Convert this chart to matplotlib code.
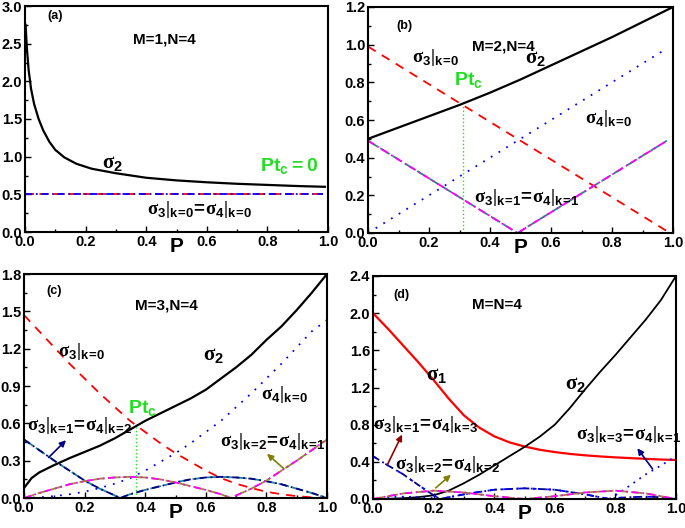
import numpy as np
import matplotlib
matplotlib.use("Agg")
from matplotlib import pyplot as plt
from matplotlib.ticker import MultipleLocator

plt.rcParams["font.family"] = ["Liberation Sans", "DejaVu Sans"]
plt.rcParams["font.weight"] = "bold"
plt.rcParams["mathtext.fontset"] = "custom"
plt.rcParams["mathtext.rm"] = "Liberation Serif"
plt.rcParams["mathtext.bf"] = "Liberation Sans:bold"
plt.rcParams["mathtext.sf"] = "Liberation Sans"
plt.rcParams["mathtext.it"] = "Liberation Sans:italic"

# ------ panel (a): M=1, N=4
pa = [0.002, 0.006, 0.012, 0.02, 0.03, 0.045, 0.06, 0.08, 0.1, 0.13, 0.17,
      0.22, 0.3, 0.4, 0.5, 0.6, 0.7, 0.8, 0.9, 0.99]
sig2_a = [2.75, 2.45, 2.15, 1.9, 1.7, 1.5, 1.35, 1.2, 1.09, 0.99, 0.905,
          0.84, 0.78, 0.72, 0.685, 0.66, 0.64, 0.625, 0.61, 0.60]
pa_flat = [0.0, 0.985]
sig34_a = [0.5, 0.5]

# ------ panel (b): M=2, N=4
pb = [0.0, 0.1, 0.2, 0.3, 0.4, 0.5, 0.6, 0.7, 0.8, 0.9, 1.0]
sig2_b = [0.50, 0.56, 0.62, 0.68, 0.745, 0.815, 0.89, 0.965, 1.04, 1.12, 1.20]
pb_s3 = [0.0, 0.99]
sig3k0_b = [0.99, 0.0]
pb_s4 = [0.0, 0.98]
sig4k0_b = [0.0, 0.98]
pb_v = [0.0, 0.49, 0.98]
sig3k1_b = [0.49, 0.0, 0.49]
ptc_b = 0.31

# ------ panel (c): M=3, N=4
pc = [0.0, 0.025, 0.05, 0.1, 0.15, 0.2, 0.25, 0.3, 0.35, 0.4, 0.45, 0.5,
      0.55, 0.6, 0.65, 0.7, 0.75, 0.8, 0.85, 0.9, 0.95, 1.0]
sig2_c = [0.08, 0.16, 0.205, 0.265, 0.32, 0.37, 0.42, 0.48, 0.55, 0.62, 0.68, 0.74,
          0.80, 0.87, 0.96, 1.05, 1.15, 1.27, 1.38, 1.51, 1.65, 1.80]
sig3k0_c = [1.47, 1.405, 1.34, 1.21, 1.08, 0.96, 0.84, 0.73, 0.62, 0.53, 0.44, 0.36,
            0.29, 0.22, 0.16, 0.115, 0.08, 0.05, 0.03, 0.015, 0.005, 0.0]
sig4k0_c = [0.0, 0.002, 0.005, 0.015, 0.03, 0.05, 0.08, 0.115, 0.16, 0.22, 0.29, 0.36,
            0.44, 0.53, 0.62, 0.73, 0.84, 0.96, 1.08, 1.21, 1.34, 1.43]
pc_k = [0.0, 0.05, 0.1, 0.15, 0.2, 0.25, 0.3, 0.317, 0.35, 0.4, 0.45, 0.5,
        0.55, 0.6, 0.65, 0.7, 0.75, 0.8, 0.85, 0.9, 0.95, 1.0]
sig3k1_c = [0.47, 0.385, 0.30, 0.22, 0.14, 0.075, 0.02, 0.0, 0.03, 0.065, 0.095, 0.125,
            0.15, 0.165, 0.17, 0.165, 0.155, 0.135, 0.11, 0.075, 0.04, 0.0]
pc_k2 = [0.0, 0.05, 0.1, 0.15, 0.2, 0.25, 0.3, 0.35, 0.4, 0.45, 0.5,
         0.55, 0.6, 0.65, 0.683, 0.7, 0.75, 0.8, 0.85, 0.9, 0.95, 1.0]
sig3k2_c = [0.0, 0.04, 0.075, 0.11, 0.135, 0.155, 0.165, 0.17, 0.165, 0.15, 0.125,
            0.095, 0.065, 0.03, 0.0, 0.02, 0.075, 0.14, 0.22, 0.30, 0.385, 0.47]
ptc_c = 0.37

# ------ panel (d): M=N=4
pd_ = [0.0, 0.05, 0.1, 0.15, 0.2, 0.25, 0.3, 0.35, 0.4, 0.45, 0.5,
       0.55, 0.6, 0.65, 0.7, 0.75, 0.8, 0.85, 0.9, 0.95, 1.0]
sig1_d = [2.0, 1.83, 1.65, 1.47, 1.28, 1.08, 0.90, 0.77, 0.675, 0.61, 0.565,
          0.53, 0.505, 0.485, 0.47, 0.458, 0.448, 0.44, 0.432, 0.425, 0.42]
sig2_d = [0.0, 0.002, 0.008, 0.02, 0.04, 0.09, 0.17, 0.26, 0.36, 0.46, 0.56,
          0.67, 0.80, 0.98, 1.18, 1.37, 1.55, 1.74, 1.93, 2.14, 2.40]
pd_k = [0.0, 0.05, 0.1, 0.15, 0.2, 0.22, 0.3, 0.4, 0.5, 0.6, 0.7, 0.78,
        0.8, 0.85, 0.9, 0.95, 1.0]
sig3k1_d = [0.46, 0.36, 0.265, 0.15, 0.04, 0.0, 0.05, 0.10, 0.115, 0.10, 0.05, 0.0,
            0.01, 0.02, 0.025, 0.02, 0.0]
sig3k3_d = [0.0, 0.02, 0.025, 0.02, 0.01, 0.0, 0.05, 0.10, 0.115, 0.10, 0.05, 0.0,
            0.04, 0.15, 0.265, 0.36, 0.46]
pd_m = [0.0, 0.1, 0.2, 0.3, 0.4, 0.5, 0.6, 0.7, 0.8, 0.9, 1.0]
sig3k2_d = [0.0, 0.06, 0.09, 0.07, 0.03, 0.0, 0.03, 0.07, 0.09, 0.06, 0.0]


def lab(n, k, n2=None, k2=None):
    s = r"$\mathrm{\sigma}_{\mathbf{%d}}|_{\mathsf{k\!=\!%d}}" % (n, k)
    if n2 is not None:
        s += r"\!\mathsf{=}\!\mathrm{\sigma}_{\mathbf{%d}}|_{\mathsf{k\!=\!%d}}" % (n2, k2)
    return s + "$"


def sig(n):
    return r"$\mathrm{\sigma}_{\mathbf{%d}}$" % n


ptc = r"$\mathbf{P}\mathbf{t}_{\mathbf{c}}$"


def setup(ax, ymax, ystep):
    ax.set_xlim(0, 1.0)
    ax.set_ylim(0, ymax)
    ax.xaxis.set_major_locator(MultipleLocator(0.2))
    ax.xaxis.set_minor_locator(MultipleLocator(0.1))
    ax.yaxis.set_major_locator(MultipleLocator(ystep))
    ax.yaxis.set_minor_locator(MultipleLocator(ystep / 2))
    ax.tick_params(which="both", direction="in", top=False, right=False,
                   labelsize=10.5, pad=2, width=1)
    ax.tick_params(which="major", length=4)
    ax.tick_params(which="minor", length=2)
    for s in ax.spines.values():
        s.set_linewidth(1.5)
    ax.text(0.5, -0.065, "P", transform=ax.transAxes, ha="center", va="center",
            fontsize=15, fontweight="bold")


fig = plt.figure(figsize=(6.85, 5.28), dpi=100)
ax_a = fig.add_axes([25 / 685, 1 - 232 / 528, 303 / 685, 226 / 528])
ax_b = fig.add_axes([368 / 685, 1 - 233 / 528, 305 / 685, 226 / 528])
ax_c = fig.add_axes([24 / 685, 1 - 498 / 528, 303 / 685, 224 / 528])
ax_d = fig.add_axes([373 / 685, 1 - 499 / 528, 303 / 685, 223 / 528])

lw = 1.3
fs = 13.5
# (a)
ax = ax_a
setup(ax, 3.0, 0.5)
ax.plot(pa, sig2_a, color="black", lw=1.6)
ax.plot(pa_flat, sig34_a, color="red", lw=lw, ls=(0, (5, 3)))
ax.plot(pa_flat, sig34_a, color="blue", lw=lw, ls=(0, (4, 2, 1, 2)))
ax.text(0.1, 2.87, "(a)", fontsize=9, fontweight="bold", ha="center", va="center")
ax.text(0.46, 2.55, "M=1,N=4", fontsize=11, fontweight="bold", ha="center", va="center")
ax.text(0.29, 0.9, sig(2), fontsize=15, ha="center", va="center")
ax.text(0.87, 0.87, ptc + r"$\mathbf{=0}$", fontsize=14, color="#22dd22", ha="center", va="center")
ax.text(0.575, 0.3, lab(3, 0, 4, 0), fontsize=fs, ha="center", va="center")

# (b)
ax = ax_b
setup(ax, 1.2, 0.2)
ax.plot(pb, sig2_b, color="black", lw=1.6)
ax.plot(pb_s3, sig3k0_b, color="red", lw=lw, ls=(0, (5, 4)))
ax.plot(pb_s4, sig4k0_b, color="blue", lw=lw, ls=(0, (1, 4)))
ax.plot(pb_v, sig3k1_b, color="#308080", lw=lw, ls=(0, (6, 2)))
ax.plot(pb_v, sig3k1_b, color="magenta", lw=lw, ls=(0, (4, 2, 1, 2)))
ax.plot([ptc_b, ptc_b], [0, np.interp(ptc_b, pb, sig2_b)], color="#22dd22", lw=1, ls=":")
ax.text(0.12, 1.1, "(b)", fontsize=9, fontweight="bold", ha="center", va="center")
ax.text(0.445, 0.99, "M=2,N=4", fontsize=11, fontweight="bold", ha="center", va="center")
ax.text(0.55, 0.92, sig(2), fontsize=15, ha="center", va="center")
ax.text(0.22, 0.93, lab(3, 0), fontsize=fs, ha="center", va="center")
ax.text(0.33, 0.81, ptc, fontsize=14, color="#22dd22", ha="center", va="center")
ax.text(0.79, 0.61, lab(4, 0), fontsize=fs, ha="center", va="center")
ax.text(0.52, 0.19, lab(3, 1, 4, 1), fontsize=fs, ha="center", va="center")

# (c)
ax = ax_c
setup(ax, 1.8, 0.3)
ax.plot(pc, sig2_c, color="black", lw=1.6)
ax.plot(pc, sig3k0_c, color="red", lw=lw, ls=(0, (5, 4)))
ax.plot(pc, sig4k0_c, color="blue", lw=lw, ls=(0, (1, 4)))
ax.plot(pc_k, sig3k1_c, color="#2080a0", lw=lw, ls=(0, (6, 2)))
ax.plot(pc_k, sig3k1_c, color="navy", lw=lw, ls=(0, (4, 2, 1, 2)))
ax.plot(pc_k2, sig3k2_c, color="#909020", lw=lw, ls=(0, (6, 2)))
ax.plot(pc_k2, sig3k2_c, color="magenta", lw=lw, ls=(0, (4, 2, 1, 2, 1, 2)))
ax.plot([ptc_c, ptc_c], [0, np.interp(ptc_c, pc, sig2_c)], color="#22dd22", lw=1, ls=":")
ax.annotate("", xy=(0.145, 0.48), xytext=(0.075, 0.31),
            arrowprops=dict(arrowstyle="-|>", color="navy", lw=1.2, mutation_scale=9))
ax.annotate("", xy=(0.795, 0.37), xytext=(0.865, 0.22),
            arrowprops=dict(arrowstyle="-|>", color="#808000", lw=1.2, mutation_scale=9))
ax.text(0.1, 1.66, "(c)", fontsize=9, fontweight="bold", ha="center", va="center")
ax.text(0.47, 1.55, "M=3,N=4", fontsize=11, fontweight="bold", ha="center", va="center")
ax.text(0.625, 1.14, sig(2), fontsize=15, ha="center", va="center")
ax.text(0.19, 1.18, lab(3, 0), fontsize=fs, ha="center", va="center")
ax.text(0.39, 0.72, ptc, fontsize=14, color="#22dd22", ha="center", va="center")
ax.text(0.86, 0.83, lab(4, 0), fontsize=fs, ha="center", va="center")
ax.text(0.185, 0.58, lab(3, 1, 4, 2), fontsize=fs, ha="center", va="center")
ax.text(0.82, 0.45, lab(3, 2, 4, 1), fontsize=fs, ha="center", va="center")

# (d)
ax = ax_d
setup(ax, 2.4, 0.4)
ax.plot(pd_, sig1_d, color="red", lw=1.6)
ax.plot(pd_, sig2_d, color="black", lw=1.3)
ax.plot(pd_k, sig3k1_d, color="navy", lw=lw, ls=(0, (4, 2, 1, 2)))
ax.plot(pd_k, sig3k1_d, color="blue", lw=lw, ls=(0, (2, 6)))
ax.plot(pd_k, sig3k3_d, color="blue", lw=lw, ls=(0, (1, 3)))
ax.plot(pd_m, sig3k2_d, color="#909020", lw=lw, ls=(0, (6, 2)))
ax.plot(pd_m, sig3k2_d, color="magenta", lw=lw, ls=(0, (4, 2, 1, 2)))
ax.annotate("", xy=(0.1, 0.72), xytext=(0.043, 0.34),
            arrowprops=dict(arrowstyle="-|>", color="#900000", lw=1.2, mutation_scale=9))
ax.annotate("", xy=(0.264, 0.28), xytext=(0.2, 0.1),
            arrowprops=dict(arrowstyle="-|>", color="#808000", lw=1.2, mutation_scale=9))
ax.annotate("", xy=(0.867, 0.57), xytext=(0.928, 0.3),
            arrowprops=dict(arrowstyle="-|>", color="navy", lw=1.2, mutation_scale=9))
ax.text(0.095, 2.2, "(d)", fontsize=9, fontweight="bold", ha="center", va="center")
ax.text(0.41, 2.09, "M=N=4", fontsize=11, fontweight="bold", ha="center", va="center")
ax.text(0.21, 1.32, sig(1), fontsize=15, ha="center", va="center")
ax.text(0.67, 1.22, sig(2), fontsize=15, ha="center", va="center")
ax.text(0.175, 0.8, lab(3, 1, 4, 3), fontsize=fs, ha="center", va="center")
ax.text(0.245, 0.37, lab(3, 2, 4, 2), fontsize=fs, ha="center", va="center")
ax.text(0.845, 0.69, lab(3, 3, 4, 1), fontsize=fs, ha="center", va="center")

fig.canvas.draw()
for ax in (ax_a, ax_b, ax_c, ax_d):
    for t in ax.get_xticklabels() + ax.get_yticklabels():
        t.set_fontweight("bold")

fig.savefig("out.png", dpi=100)
